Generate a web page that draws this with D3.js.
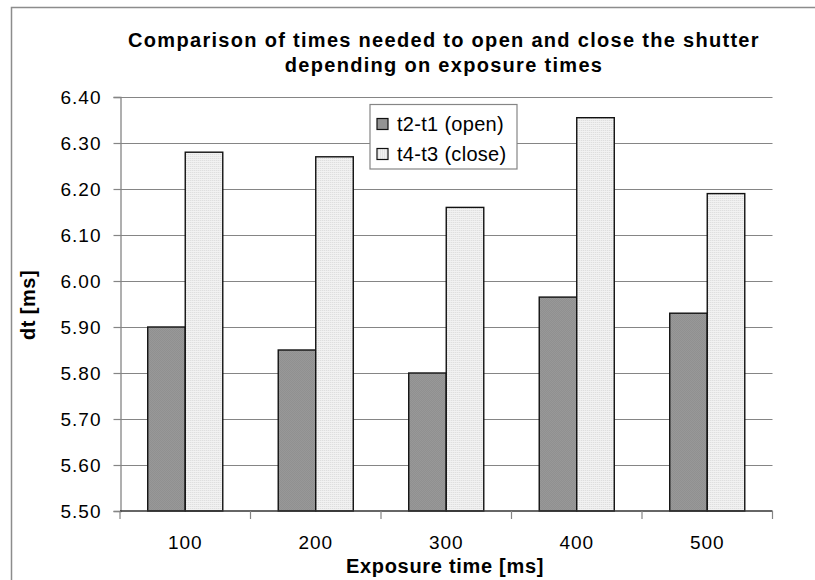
<!DOCTYPE html>
<html>
<head>
<meta charset="utf-8">
<script src="https://cdn.jsdelivr.net/npm/d3@7"></script>
<style>
  body { margin: 0; background: #fff; }
  text { font-family: "Liberation Sans", Arial, sans-serif; fill: #000; }
</style>
</head>
<body>
<div id="chart"></div>
<script>
// data
var categories = ["100", "200", "300", "400", "500"];
var seriesNames = ["t2-t1 (open)", "t4-t3 (close)"];
var openValues = [5.90, 5.85, 5.80, 5.965, 5.93];
var closeValues = [6.28, 6.27, 6.16, 6.355, 6.19];
var yTicks = [5.50, 5.60, 5.70, 5.80, 5.90, 6.00, 6.10, 6.20, 6.30, 6.40];
var titleLines = ["Comparison of times needed to open and close the shutter",
                  "depending on exposure times"];

var width = 815, height = 580;
var plot = { left: 120, right: 772.5, top: 97, bottom: 511 };

var svg = d3.select("#chart").append("svg")
    .attr("width", width).attr("height", height);

// fill patterns (the original is dithered)
var defs = svg.append("defs");
var pOpen = defs.append("pattern").attr("id", "pat-open")
    .attr("width", 2).attr("height", 2).attr("patternUnits", "userSpaceOnUse");
pOpen.append("rect").attr("width", 2).attr("height", 2).attr("fill", "#9c9c9c");
pOpen.append("rect").attr("width", 1).attr("height", 1).attr("fill", "#8c8c8c");
pOpen.append("rect").attr("x", 1).attr("y", 1).attr("width", 1).attr("height", 1).attr("fill", "#8c8c8c");
var pClose = defs.append("pattern").attr("id", "pat-close")
    .attr("width", 2).attr("height", 2).attr("patternUnits", "userSpaceOnUse");
pClose.append("rect").attr("width", 2).attr("height", 2).attr("fill", "#f2f2f2");
pClose.append("rect").attr("width", 1).attr("height", 1).attr("fill", "#d8d8d8");
var fills = ["url(#pat-open)", "url(#pat-close)"];

// outer chart border (only left/top visible)
svg.append("path")
    .attr("d", "M11.5," + height + "V7.5H" + width)
    .attr("fill", "none").attr("stroke", "#8c8c8c").attr("stroke-width", 1.5);

// title
svg.append("g").selectAll("text").data(titleLines).enter().append("text")
    .attr("x", 444).attr("y", function (d, i) { return 47 + i * 25; })
    .attr("text-anchor", "middle")
    .style("font-weight", "bold").style("font-size", "20px").style("letter-spacing", "1.3px")
    .text(function (d) { return d; });

var y = d3.scaleLinear().domain([5.5, 6.4]).range([plot.bottom, plot.top]);
var x0 = d3.scaleBand().domain(categories).range([plot.left, plot.right])
    .paddingInner(0.425).paddingOuter(0.2125);
var x1 = d3.scaleBand().domain(seriesNames).range([0, x0.bandwidth()]);

// gridlines
svg.append("g").selectAll("line").data(yTicks.slice(1)).enter().append("line")
    .attr("x1", plot.left).attr("x2", plot.right)
    .attr("y1", function (d) { return Math.round(y(d)) + 0.5; })
    .attr("y2", function (d) { return Math.round(y(d)) + 0.5; })
    .attr("stroke", "#858585").attr("stroke-width", 1.2);

// y axis
var yAxis = svg.append("g").attr("transform", "translate(" + (plot.left + 0.5) + ",0)")
    .call(d3.axisLeft(y).tickValues(yTicks).tickFormat(d3.format(".2f")).tickSize(7).tickPadding(12));
yAxis.select(".domain").attr("stroke", "#858585").attr("stroke-width", 1.3);
yAxis.selectAll(".tick line").attr("stroke", "#858585").attr("stroke-width", 1.2);
yAxis.selectAll(".tick text").style("font-size", "19px").style("letter-spacing", "1px")
    .style("font-family", "'Liberation Sans', Arial, sans-serif");

// bars
var groups = svg.append("g").selectAll("g").data(categories).enter().append("g")
    .attr("transform", function (c) { return "translate(" + x0(c) + ",0)"; });
groups.selectAll("rect")
    .data(function (c, i) { return [openValues[i], closeValues[i]]; })
    .enter().append("rect")
    .attr("x", function (d, j) { return x1(seriesNames[j]); })
    .attr("width", x1.bandwidth())
    .attr("y", function (d) { return y(d); })
    .attr("height", function (d) { return y(5.5) - y(d); })
    .attr("fill", function (d, j) { return fills[j]; })
    .attr("stroke", "#111").attr("stroke-width", 1.4);

// x axis
var xAxis = svg.append("g").attr("transform", "translate(0," + plot.bottom + ")");
xAxis.append("line").attr("x1", plot.left).attr("x2", plot.right)
    .attr("stroke", "#333").attr("stroke-width", 1.5);
var bounds = d3.range(categories.length + 1).map(function (i) { return plot.left + i * x0.step(); });
xAxis.selectAll(".bt").data(bounds).enter().append("line")
    .attr("x1", function (d) { return d; }).attr("x2", function (d) { return d; })
    .attr("y1", 0).attr("y2", 8).attr("stroke", "#858585").attr("stroke-width", 1.2);
xAxis.selectAll(".lbl").data(categories).enter().append("text")
    .attr("x", function (c) { return x0(c) + x0.bandwidth() / 2; })
    .attr("y", 38).attr("text-anchor", "middle").style("font-size", "19px").style("letter-spacing", "1px")
    .text(function (c) { return c; });

// axis titles
svg.append("text").attr("x", 445).attr("y", 573).attr("text-anchor", "middle")
    .style("font-weight", "bold").style("font-size", "20px").style("letter-spacing", "0.7px")
    .text("Exposure time [ms]");
svg.append("text").attr("transform", "translate(35,305) rotate(-90)").attr("text-anchor", "middle")
    .style("font-weight", "bold").style("font-size", "20px").style("letter-spacing", "0.5px")
    .text("dt [ms]");

// legend
var legend = svg.append("g").attr("transform", "translate(370,104.5)");
legend.append("rect").attr("width", 147).attr("height", 64.5)
    .attr("fill", "#fff").attr("stroke", "#858585").attr("stroke-width", 1.2);
var items = legend.selectAll(".item").data(seriesNames).enter().append("g")
    .attr("transform", function (d, i) { return "translate(0," + (i * 30) + ")"; });
items.append("rect").attr("x", 7).attr("y", 14).attr("width", 11).attr("height", 11)
    .attr("fill", function (d, i) { return fills[i]; }).attr("stroke", "#111").attr("stroke-width", 1.2);
items.append("text").attr("x", 27).attr("y", 26).style("font-size", "20px").style("letter-spacing", "0.3px")
    .text(function (d) { return d; });
</script>
</body>
</html>
